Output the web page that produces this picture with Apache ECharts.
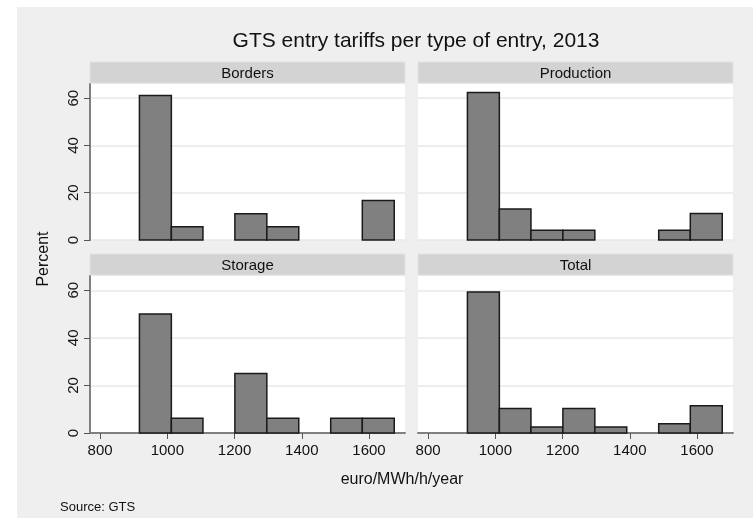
<!DOCTYPE html>
<html>
<head>
<meta charset="utf-8">
<script src="https://cdn.jsdelivr.net/npm/echarts@6.0.0/dist/echarts.min.js"></script>
<style>
  html, body { margin: 0; padding: 0; background: #fff; }
  #main { width: 753px; height: 518px; }
</style>
</head>
<body>
<div id="main"></div>
<script>
// histogram bins (euro/MWh/h/year), percent per bin
const binEdges = [917, 1012, 1106, 1201, 1296, 1391, 1486, 1580, 1675];
const panels = ['Borders', 'Production', 'Storage', 'Total'];
const borders = [61.1, 5.6, 0, 11.1, 5.6, 0, 0, 16.7];
const production = [62.4, 13.1, 4.1, 4.1, 0, 0, 4.1, 11.2];
const storage = [50, 6.25, 0, 25, 6.25, 0, 6.25, 6.25];
const total = [59.3, 10.3, 2.5, 10.3, 2.5, 0, 3.9, 11.5];
const xTicks = [800, 1000, 1200, 1400, 1600];
const yTicks = [0, 20, 40, 60];

const seriesValues = [borders, production, storage, total];

// panel layout
const cols = [{ left: 90, width: 315 }, { left: 418, width: 315 }];
const rows = [{ top: 84, height: 156 }, { top: 276, height: 157 }];
const stripH = 21;
const font = 'Liberation Sans, Arial, sans-serif';

const chart = echarts.init(document.getElementById('main'));

const grids = [], xAxes = [], yAxes = [], series = [], graphics = [];

graphics.push({ type: 'rect', z: -100, shape: { x: 17, y: 7, width: 736, height: 511 }, style: { fill: '#efefef' } });

panels.forEach((name, i) => {
  const c = cols[i % 2], r = rows[Math.floor(i / 2)];
  const bottomRow = i >= 2, leftCol = i % 2 === 0;
  grids.push({ left: c.left, top: r.top, width: c.width, height: r.height, show: true, backgroundColor: '#fff', borderWidth: 0, containLabel: false });

  graphics.push({ type: 'rect', shape: { x: c.left, y: r.top - stripH - 1, width: c.width, height: stripH }, style: { fill: '#d3d3d3', stroke: '#dde3e8', lineWidth: 1 } });
  graphics.push({ type: 'text', x: c.left + c.width / 2, y: r.top - stripH / 2, style: { text: name, font: '15px ' + font, fill: '#111', align: 'center', verticalAlign: 'middle' } });

  xAxes.push({
    type: 'value', gridIndex: i, min: 770, max: 1707,
    axisLine: { show: bottomRow, onZero: false, lineStyle: { color: '#808080', width: 2 } },
    axisTick: { show: bottomRow, length: 6, customValues: xTicks, lineStyle: { color: '#555' } },
    axisLabel: { show: bottomRow, customValues: xTicks, formatter: v => String(v), margin: 10, fontSize: 15, fontFamily: font, color: '#111' },
    splitLine: { show: false }
  });
  yAxes.push({
    type: 'value', gridIndex: i, min: 0, max: 66,
    axisLine: { show: leftCol, lineStyle: { color: '#808080', width: 2 } },
    axisTick: { show: leftCol, length: 6, customValues: yTicks, lineStyle: { color: '#555' } },
    axisLabel: { show: leftCol, customValues: yTicks, rotate: 90, margin: 9, fontSize: 15, fontFamily: font, color: '#111' },
    splitLine: { show: true, customValues: yTicks, lineStyle: { color: '#e8e8e8', width: 1.5 } }
  });

  const data = seriesValues[i].map((v, k) => [binEdges[k], binEdges[k + 1], v]);
  series.push({
    type: 'custom', name: name, xAxisIndex: i, yAxisIndex: i, data: data,
    renderItem: (params, api) => {
      const v = api.value(2);
      if (!v) return null;
      const p0 = api.coord([api.value(0), v]);
      const p1 = api.coord([api.value(1), 0]);
      return {
        type: 'rect',
        shape: { x: p0[0], y: p0[1], width: p1[0] - p0[0], height: p1[1] - p0[1] },
        style: { fill: '#808080', stroke: '#1a1a1a', lineWidth: 1.5 }
      };
    }
  });
});

graphics.push({ type: 'text', x: 44, y: 259, rotation: Math.PI / 2, style: { text: 'Percent', font: '16px ' + font, fill: '#111', align: 'center', verticalAlign: 'middle' } });

chart.setOption({
  backgroundColor: '#fff',
  animation: false,
  title: [
    { text: 'GTS entry tariffs per type of entry, 2013', left: 411, top: 26, textAlign: 'center', textStyle: { fontSize: 21, fontWeight: 'normal', fontFamily: font, color: '#111' } },
    { text: 'euro/MWh/h/year', left: 397, top: 467, textAlign: 'center', textStyle: { fontSize: 16, fontWeight: 'normal', fontFamily: font, color: '#111' } },
    { text: 'Source: GTS', left: 55, top: 496, textStyle: { fontSize: 13, fontWeight: 'normal', fontFamily: font, color: '#111' } }
  ],
  grid: grids,
  xAxis: xAxes,
  yAxis: yAxes,
  series: series,
  graphic: graphics
});
</script>
</body>
</html>
